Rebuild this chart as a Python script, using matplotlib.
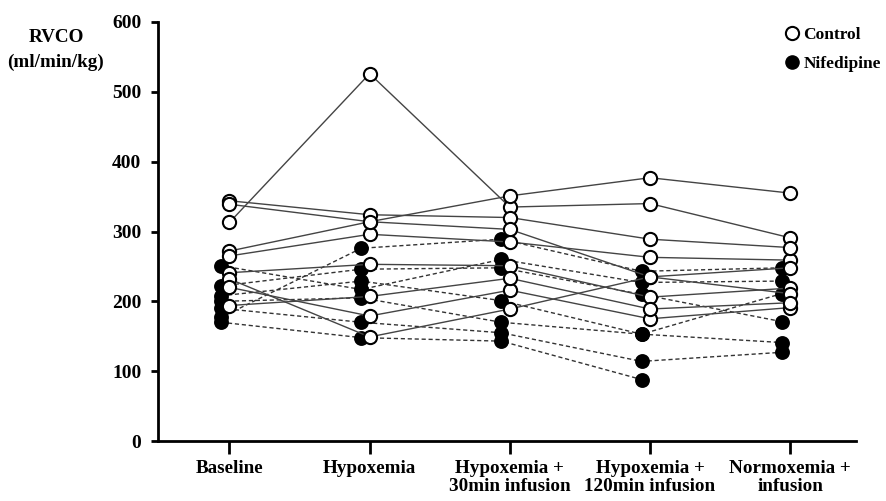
import numpy as np
import matplotlib
matplotlib.use("Agg")
import matplotlib.pyplot as plt
from matplotlib.lines import Line2D

categories = ["Baseline", "Hypoxemia", "Hypoxemia +\n30min infusion",
              "Hypoxemia +\n120min infusion", "Normoxemia +\ninfusion"]
y_ticks = [0, 100, 200, 300, 400, 500, 600]

# Control animals (open circles, solid lines)
control_1 = [313, 526, 335, 340, 291]
control_2 = [272, 314, 351, 377, 355]
control_3 = [265, 296, 285, 263, 259]
control_4 = [344, 324, 320, 289, 277]
control_5 = [339, 314, 303, 235, 248]
control_6 = [241, 253, 251, 206, 219]
control_7 = [232, 149, 189, 235, 211]
control_8 = [220, 179, 216, 175, 191]
control_9 = [194, 207, 233, 189, 198]
control = [control_1, control_2, control_3, control_4, control_5,
           control_6, control_7, control_8, control_9]

# Nifedipine animals (filled circles, dashed lines)
nifed_1 = [177, 276, 289, 243, 248]
nifed_2 = [251, 217, 260, 227, 229]
nifed_3 = [222, 246, 248, 210, 171]
nifed_4 = [208, 229, 201, 153, 211]
nifed_5 = [200, 205, 170, 153, 141]
nifed_6 = [190, 170, 155, 114, 127]
nifed_7 = [170, 148, 143, 88, np.nan]
nifed = [nifed_1, nifed_2, nifed_3, nifed_4, nifed_5, nifed_6, nifed_7]

plt.rcParams['font.family'] = ['Liberation Serif', 'DejaVu Serif']
plt.rcParams['font.weight'] = 'bold'

fig = plt.figure(figsize=(8.87, 5.01), dpi=100)
ax = fig.add_axes([158 / 887, 60 / 501, (856 - 158) / 887, (441 - 22) / 501])

x = np.arange(len(categories))
for s in nifed:
    ax.plot(x - 0.06, s, ls=(0, (3, 2)), color='#333333', lw=1.0,
            marker='o', ms=9.5, mfc='black', mec='black', mew=1.2, zorder=2)
for s in control:
    ax.plot(x, s, ls='-', color='#444444', lw=1.0,
            marker='o', ms=9.5, mfc='white', mec='black', mew=1.5, zorder=3)

ax.set_xlim(-0.51, 4.47)
ax.set_ylim(0, 600)
ax.set_yticks(y_ticks)
ax.set_yticklabels([str(v) for v in y_ticks], fontsize=14, fontweight='bold')
ax.set_xticks(x)
ax.set_xticklabels(categories, fontsize=13.8, fontweight='bold', linespacing=1.1)
ax.spines['top'].set_visible(False)
ax.spines['right'].set_visible(False)
ax.spines['left'].set_linewidth(2)
ax.spines['bottom'].set_linewidth(2)
ax.tick_params(axis='y', direction='out', length=5, width=2, pad=7)
ax.tick_params(axis='x', direction='out', length=9.5, width=2, pad=4)

fig.text(56 / 887, 1 - 38 / 501, "RVCO", ha='center', va='center',
         fontsize=13.8, fontweight='bold')
fig.text(56 / 887, 1 - 62 / 501, "(ml/min/kg)", ha='center', va='center',
         fontsize=13.8, fontweight='bold')

handles = [Line2D([], [], ls='none', marker='o', ms=9.5, mfc='white', mec='black', mew=1.5),
           Line2D([], [], ls='none', marker='o', ms=9.5, mfc='black', mec='black')]
leg = fig.legend(handles, ["Control", "Nifedipine"], loc='upper left',
                 bbox_to_anchor=(786 / 887, 1 - 27 / 501), frameon=False,
                 prop={'size': 12.5, 'weight': 'bold'}, handletextpad=0.3,
                 handlelength=0.7, labelspacing=0.72, borderpad=0,
                 borderaxespad=0)

fig.savefig("out.png", dpi=100)
